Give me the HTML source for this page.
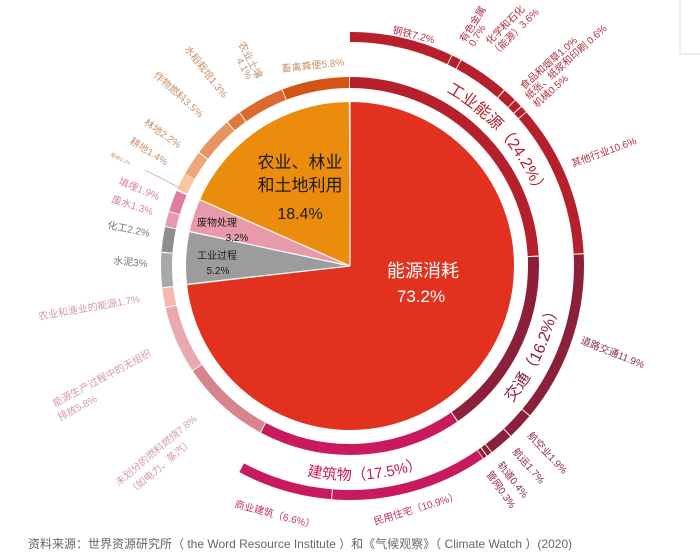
<!DOCTYPE html>
<html><head><meta charset="utf-8"><style>
html,body{margin:0;padding:0;background:#fff;}
svg{display:block;font-family:"Liberation Sans","Noto Sans CJK SC",sans-serif;}
</style></head><body>
<svg width="700" height="556" viewBox="0 0 700 556" xmlns="http://www.w3.org/2000/svg">
<rect x="680" y="-1" width="25" height="55" fill="none" stroke="#ddd"/>
<g transform="rotate(-90 350 266)" fill="none">
<!-- pie -->
<circle cx="350" cy="266" r="82" stroke-width="164" pathLength="360" stroke="#e2321f" stroke-dasharray="263.52 400" stroke-dashoffset="0"/>
<circle cx="350" cy="266" r="82" stroke-width="164" pathLength="360" stroke="#9c9c9c" stroke-dasharray="18.72 400" stroke-dashoffset="-263.52"/>
<circle cx="350" cy="266" r="82" stroke-width="164" pathLength="360" stroke="#e89aaa" stroke-dasharray="11.52 400" stroke-dashoffset="-282.24"/>
<circle cx="350" cy="266" r="82" stroke-width="164" pathLength="360" stroke="#eb8c0c" stroke-dasharray="66.24 400" stroke-dashoffset="-293.76"/>
<!-- inner ring r 183.5 -->
<g stroke-width="11">
<circle cx="350" cy="266" r="183.5" pathLength="360" stroke="#b5202c" stroke-dasharray="86.8 400" stroke-dashoffset="0"/>
<circle cx="350" cy="266" r="183.5" pathLength="360" stroke="#8c1f3a" stroke-dasharray="58 400" stroke-dashoffset="-87.12"/>
<circle cx="350" cy="266" r="183.5" pathLength="360" stroke="#c81a5c" stroke-dasharray="62.7 400" stroke-dashoffset="-145.44"/>
<circle cx="350" cy="266" r="183.5" pathLength="360" stroke="#d8848c" stroke-dasharray="27.8 400" stroke-dashoffset="-208.44"/>
<circle cx="350" cy="266" r="183.5" pathLength="360" stroke="#e9a9ae" stroke-dasharray="20.6 400" stroke-dashoffset="-236.52"/>
<circle cx="350" cy="266" r="183.5" pathLength="360" stroke="#f4b8ae" stroke-dasharray="5.8 400" stroke-dashoffset="-257.4"/>
<circle cx="350" cy="266" r="183.5" pathLength="360" stroke="#a9a9a9" stroke-dasharray="10.5 400" stroke-dashoffset="-263.52"/>
<circle cx="350" cy="266" r="183.5" pathLength="360" stroke="#8e8e8e" stroke-dasharray="7.6 400" stroke-dashoffset="-274.32"/>
<circle cx="350" cy="266" r="183.5" pathLength="360" stroke="#e59ab0" stroke-dasharray="4.4 400" stroke-dashoffset="-282.24"/>
<circle cx="350" cy="266" r="183.5" pathLength="360" stroke="#e07d9c" stroke-dasharray="6.5 400" stroke-dashoffset="-286.92"/>
<circle cx="350" cy="266" r="183.5" pathLength="360" stroke="#f7c6a0" stroke-dasharray="5.1 400" stroke-dashoffset="-294.0"/>
<circle cx="350" cy="266" r="183.5" pathLength="360" stroke="#eda87a" stroke-dasharray="7.6 400" stroke-dashoffset="-299.16"/>
<circle cx="350" cy="266" r="183.5" pathLength="360" stroke="#e89460" stroke-dasharray="12.3 400" stroke-dashoffset="-307.08"/>
<circle cx="350" cy="266" r="183.5" pathLength="360" stroke="#e0783c" stroke-dasharray="4.4 400" stroke-dashoffset="-319.68"/>
<circle cx="350" cy="266" r="183.5" pathLength="360" stroke="#dc6a2c" stroke-dasharray="14.5 400" stroke-dashoffset="-324.36"/>
<circle cx="350" cy="266" r="183.5" pathLength="360" stroke="#d45414" stroke-dasharray="20.6 400" stroke-dashoffset="-339.12"/>
</g>
<!-- outer ring r 229 -->
<g stroke-width="10">
<circle cx="350" cy="266" r="229" pathLength="360" stroke="#b5202c" stroke-dasharray="25.7 400" stroke-dashoffset="0"/>
<circle cx="350" cy="266" r="229" pathLength="360" stroke="#b5202c" stroke-dasharray="2.3 400" stroke-dashoffset="-25.92"/>
<circle cx="350" cy="266" r="229" pathLength="360" stroke="#b5202c" stroke-dasharray="12.7 400" stroke-dashoffset="-28.44"/>
<circle cx="350" cy="266" r="229" pathLength="360" stroke="#b5202c" stroke-dasharray="3.4 400" stroke-dashoffset="-41.4"/>
<circle cx="350" cy="266" r="229" pathLength="360" stroke="#b5202c" stroke-dasharray="1.9 400" stroke-dashoffset="-45"/>
<circle cx="350" cy="266" r="229" pathLength="360" stroke="#b5202c" stroke-dasharray="1.6 400" stroke-dashoffset="-47.16"/>
<circle cx="350" cy="266" r="229" pathLength="360" stroke="#b5202c" stroke-dasharray="37.9 400" stroke-dashoffset="-48.96"/>
<circle cx="350" cy="266" r="229" pathLength="360" stroke="#8c1f3a" stroke-dasharray="42.6 400" stroke-dashoffset="-87.12"/>
<circle cx="350" cy="266" r="229" pathLength="360" stroke="#8c1f3a" stroke-dasharray="6.6 400" stroke-dashoffset="-129.96"/>
<circle cx="350" cy="266" r="229" pathLength="360" stroke="#8c1f3a" stroke-dasharray="5.9 400" stroke-dashoffset="-136.8"/>
<circle cx="350" cy="266" r="229" pathLength="360" stroke="#8c1f3a" stroke-dasharray="1.2 400" stroke-dashoffset="-142.92"/>
<circle cx="350" cy="266" r="229" pathLength="360" stroke="#8c1f3a" stroke-dasharray="0.9 400" stroke-dashoffset="-144.36"/>
<circle cx="350" cy="266" r="229" pathLength="360" stroke="#c81a5c" stroke-dasharray="39 400" stroke-dashoffset="-145.44"/>
<circle cx="350" cy="266" r="229" pathLength="360" stroke="#c81a5c" stroke-dasharray="23.6 400" stroke-dashoffset="-184.68"/>
</g>
</g>
<!-- pie separators -->
<g stroke="#fff" stroke-width="1.2">
<line x1="350" y1="266" x2="350" y2="100"/>
<line x1="350" y1="266" x2="186.7" y2="284.3"/>
<line x1="350" y1="266" x2="189.6" y2="231.5"/>
<line x1="350" y1="266" x2="199.8" y2="199.7"/>
</g>
<line x1="145" y1="170" x2="180" y2="188" stroke="#c8b090" stroke-width="0.8"/>

<!-- pie labels -->
<g text-anchor="middle">
<text x="300" y="168" font-size="17" fill="#1a1a1a">农业、林业</text>
<text x="300" y="191" font-size="17" fill="#1a1a1a">和土地利用</text>
<text x="300" y="219" font-size="16" fill="#1a1a1a">18.4%</text>
<text x="217" y="226" font-size="10" fill="#1a1a1a">废物处理</text>
<text x="237" y="241" font-size="10" fill="#1a1a1a">3.2%</text>
<text x="217" y="259" font-size="10" fill="#1a1a1a">工业过程</text>
<text x="218" y="274" font-size="10" fill="#1a1a1a">5.2%</text>
<text x="423" y="277" font-size="18" fill="#fff">能源消耗</text>
<text x="421" y="302" font-size="17" fill="#fff">73.2%</text>
</g>

<!-- curved group labels -->
<defs>
<path id="pInd" d="M418.1,79 A199,199 0 0 1 546,231.4"/>
<path id="pTr" d="M499.9,415.9 A212,212 0 0 0 562,266"/>
<path id="pBd" d="M259.5,459.9 A214,214 0 0 0 457,451.3"/>
</defs>
<text font-size="16" fill="#b5202c"><textPath href="#pInd" startOffset="31">工业能源（24.2%）</textPath></text>
<text font-size="16" fill="#8c1f3a"><textPath href="#pTr" startOffset="18">交通（16.2%）</textPath></text>
<text font-size="15" fill="#c81a5c"><textPath href="#pBd" startOffset="50">建筑物（17.5%）</textPath></text>

<!-- industry labels -->
<g font-size="10" fill="#b0303e">
<text transform="translate(392,33) rotate(14)">钢铁7.2%</text>
<text transform="translate(465,43) rotate(-58)">有色金属</text>
<text transform="translate(474,47) rotate(-58)">0.7%</text>
<text transform="translate(490,45) rotate(-45)">化学和石化</text>
<text transform="translate(495,57) rotate(-45)">（能源）3.6%</text>
<text transform="translate(524,90) rotate(-42)">食品和烟草1.0%</text>
<text transform="translate(529,100) rotate(-42)">纸张、纸浆和印刷 0.6%</text>
<text transform="translate(537,108) rotate(-42)">机械0.5%</text>
<text transform="translate(573,167) rotate(-20)">其他行业10.6%</text>
</g>
<!-- transport labels -->
<g font-size="10" fill="#8a2a48">
<text transform="translate(580,343) rotate(22)">道路交通11.9%</text>
<text transform="translate(527,436) rotate(47)">航空业1.9%</text>
<text transform="translate(512,452) rotate(49)">航运1.7%</text>
<text transform="translate(497,465) rotate(52)">轨道0.4%</text>
<text transform="translate(486,474) rotate(55)">管网0.3%</text>
</g>
<!-- buildings labels -->
<g font-size="10" fill="#c0306a">
<text transform="translate(234,507) rotate(15)">商业建筑（6.6%）</text>
<text transform="translate(375,525) rotate(-17)">民用住宅（10.9%）</text>
</g>
<!-- agri labels -->
<g font-size="10" fill="#c8906a">
<text transform="translate(282,72) rotate(-6)">畜禽粪便5.8%</text>
<text transform="translate(238,44) rotate(62)">农业土壤</text>
<text transform="translate(236,60) rotate(62)">4.1%</text>
<text transform="translate(184,49) rotate(52)">水稻栽培1.3%</text>
<text transform="translate(153,76) rotate(42)">作物燃料3.5%</text>
<text transform="translate(143,124) rotate(35)">林地2.2%</text>
<text transform="translate(129,143) rotate(32)">耕地1.4%</text>
<text transform="translate(110,156) rotate(25)" font-size="5">草地0.1%</text>
</g>
<g font-size="10" fill="#d884a0">
<text transform="translate(118,184) rotate(22)">填埋1.9%</text>
<text transform="translate(111,202) rotate(18)">废水1.3%</text>
</g>
<g font-size="10" fill="#777">
<text transform="translate(107,228) rotate(12)">化工2.2%</text>
<text transform="translate(113,264) rotate(5)">水泥3%</text>
</g>
<g font-size="10" fill="#d49aa8">
<text transform="translate(39,320) rotate(-10)">农业和渔业的能源1.7%</text>
<text transform="translate(55,407) rotate(-28)">能源生产过程中的无组织</text>
<text transform="translate(60,421) rotate(-28)">排放5.8%</text>
<text transform="translate(119,486) rotate(-40)">未划分的燃料燃烧7.8%</text>
<text transform="translate(132,495) rotate(-40)">（如电力、蒸汽）</text>
</g>

<text x="28" y="548" font-size="12" fill="#666">资料来源：世界资源研究所（ the Word Resource Institute ）和《气候观察》（ Climate Watch ）(2020)</text>
</svg>
</body></html>
